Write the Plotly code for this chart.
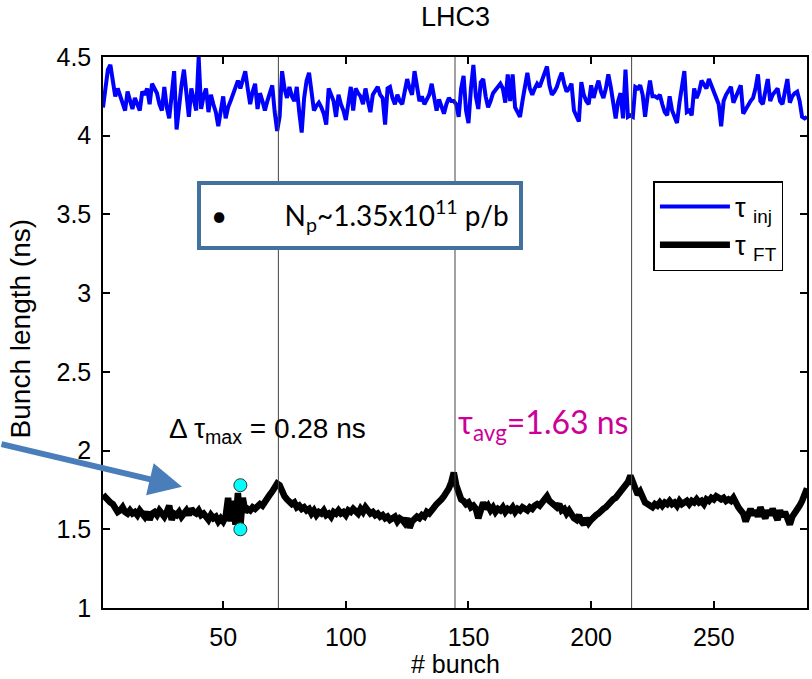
import plotly.graph_objects as go

# Bunch numbers along the LHC3 train
bunch = list(range(1, 289))

# Bunch length at injection (ns)
tau_inj = [
    4.18, 4.30, 4.42, 4.45, 4.35, 4.25, 4.30, 4.25, 4.22, 4.16, 4.28, 4.22,
    4.17, 4.24, 4.20, 4.16, 4.28, 4.26, 4.30, 4.20, 4.33, 4.30, 4.27, 4.20,
    4.16, 4.31, 4.18, 4.11, 4.25, 4.41, 4.04, 4.20, 4.32, 4.42, 4.25, 4.12,
    4.30, 4.22, 4.16, 4.50, 4.17, 4.25, 4.30, 4.15, 4.26, 4.20, 4.15, 4.06,
    4.15, 4.25, 4.11, 4.18, 4.22, 4.26, 4.30, 4.35, 4.30, 4.36, 4.41, 4.30,
    4.20, 4.28, 4.33, 4.17, 4.27, 4.22, 4.16, 4.22, 4.27, 4.32, 4.15, 4.03,
    4.12, 4.41, 4.30, 4.24, 4.31, 4.25, 4.22, 4.31, 4.15, 4.02, 4.24, 4.35,
    4.40, 4.26, 4.16, 4.19, 4.21, 4.18, 4.14, 4.07, 4.30, 4.26, 4.22, 4.12,
    4.26, 4.20, 4.16, 4.10, 4.22, 4.31, 4.16, 4.30, 4.27, 4.25, 4.20, 4.30,
    4.22, 4.15, 4.26, 4.29, 4.31, 4.26, 4.24, 4.07, 4.30, 4.31, 4.24, 4.20,
    4.26, 4.22, 4.20, 4.28, 4.36, 4.30, 4.26, 4.41, 4.30, 4.22, 4.25, 4.20,
    4.23, 4.26, 4.33, 4.25, 4.16, 4.23, 4.19, 4.14, 4.20, 4.24, 4.22, 4.22,
    4.20, 4.12, 4.30, 4.38, 4.16, 4.08, 4.30, 4.45, 4.25, 4.17, 4.34, 4.36,
    4.25, 4.18, 4.22, 4.27, 4.29, 4.31, 4.33, 4.30, 4.21, 4.39, 4.22, 4.39,
    4.18, 4.15, 4.12, 4.22, 4.30, 4.40, 4.30, 4.26, 4.30, 4.33, 4.31, 4.35,
    4.40, 4.44, 4.32, 4.26, 4.28, 4.31, 4.36, 4.40, 4.33, 4.28, 4.30, 4.33,
    4.16, 4.12, 4.09, 4.34, 4.26, 4.22, 4.20, 4.32, 4.24, 4.30, 4.35, 4.28,
    4.24, 4.30, 4.39, 4.31, 4.20, 4.11, 4.22, 4.27, 4.11, 4.42, 4.12, 4.13,
    4.12, 4.31, 4.30, 4.32, 4.26, 4.12, 4.25, 4.35, 4.25, 4.25, 4.24, 4.26,
    4.20, 4.15, 4.13, 4.25, 4.16, 4.12, 4.08, 4.21, 4.30, 4.41, 4.15, 4.16,
    4.13, 4.30, 4.24, 4.28, 4.35, 4.33, 4.30, 4.36, 4.32, 4.28, 4.24, 4.20,
    4.06, 4.22, 4.26, 4.28, 4.31, 4.21, 4.25, 4.29, 4.32, 4.14, 4.17, 4.20,
    4.22, 4.24, 4.30, 4.39, 4.22, 4.20, 4.28, 4.36, 4.22, 4.26, 4.28, 4.30,
    4.22, 4.20, 4.28, 4.36, 4.21, 4.25, 4.27, 4.28, 4.22, 4.12, 4.11, 4.12,
]

# Bunch length at flat top (ns)
tau_ft = [
    1.72, 1.70, 1.68, 1.67, 1.66, 1.63, 1.61, 1.62, 1.64, 1.61, 1.60, 1.62,
    1.60, 1.61, 1.59, 1.62, 1.60, 1.58, 1.61, 1.56, 1.60, 1.61, 1.59, 1.62,
    1.60, 1.58, 1.61, 1.65, 1.56, 1.60, 1.59, 1.61, 1.58, 1.60, 1.62, 1.59,
    1.63, 1.61, 1.60, 1.62, 1.59, 1.60, 1.58, 1.56, 1.59, 1.57, 1.58, 1.55,
    1.57, 1.55, 1.58, 1.70, 1.55, 1.68, 1.53, 1.73, 1.52, 1.70, 1.61, 1.63,
    1.62, 1.64, 1.63, 1.65, 1.66, 1.65, 1.68, 1.70, 1.72, 1.74, 1.76, 1.79,
    1.78, 1.74, 1.71, 1.69, 1.68, 1.66, 1.67, 1.64, 1.65, 1.63, 1.64, 1.62,
    1.63, 1.60, 1.62, 1.59, 1.61, 1.60, 1.62, 1.59, 1.60, 1.58, 1.61, 1.60,
    1.62, 1.60, 1.61, 1.59, 1.62, 1.61, 1.63, 1.62, 1.60, 1.63, 1.61, 1.64,
    1.62, 1.60, 1.61, 1.59, 1.60, 1.58, 1.59, 1.57, 1.58, 1.56, 1.57, 1.58,
    1.55, 1.57, 1.56, 1.54, 1.57, 1.51, 1.55, 1.56, 1.58, 1.57, 1.59, 1.58,
    1.61, 1.60, 1.63, 1.64, 1.66, 1.67, 1.69, 1.71, 1.73, 1.76, 1.80, 1.86,
    1.78, 1.72, 1.69, 1.68, 1.66, 1.67, 1.64, 1.65, 1.63, 1.57, 1.64, 1.67,
    1.63, 1.65, 1.62, 1.64, 1.61, 1.63, 1.62, 1.64, 1.61, 1.63, 1.62, 1.64,
    1.61, 1.63, 1.62, 1.64, 1.63, 1.62, 1.64, 1.63, 1.65, 1.66, 1.65, 1.67,
    1.69, 1.71, 1.68, 1.67, 1.66, 1.64, 1.66, 1.62, 1.63, 1.60, 1.62, 1.59,
    1.57, 1.56, 1.59, 1.55, 1.53, 1.57, 1.54, 1.56, 1.58, 1.59, 1.60, 1.62,
    1.63, 1.64, 1.66, 1.67, 1.69, 1.70, 1.72, 1.73, 1.75, 1.77, 1.80, 1.84,
    1.79, 1.75, 1.72, 1.74, 1.70, 1.67, 1.66, 1.65, 1.64, 1.66, 1.65, 1.67,
    1.65, 1.67, 1.66, 1.68, 1.66, 1.67, 1.65, 1.68, 1.66, 1.67, 1.68, 1.66,
    1.68, 1.67, 1.69, 1.67, 1.68, 1.66, 1.69, 1.68, 1.70, 1.69, 1.71, 1.70,
    1.69, 1.70, 1.68, 1.69, 1.68, 1.70, 1.66, 1.64, 1.62, 1.60, 1.55, 1.61,
    1.63, 1.59, 1.62, 1.58, 1.64, 1.60, 1.57, 1.62, 1.59, 1.63, 1.60, 1.56,
    1.62, 1.58, 1.61, 1.57, 1.53, 1.58, 1.60, 1.63, 1.65, 1.68, 1.72, 1.76,
]

# Batch boundaries
batch_edges = [72.5, 144.5, 216.5]

# Extremes of the flat-top spread inside the first batch
spread_x = [57, 57]
spread_y = [1.50, 1.78]

x_ticks = [50, 100, 150, 200, 250]
y_ticks = [1, 1.5, 2, 2.5, 3, 3.5, 4, 4.5]

AX_FONT = "Liberation Sans, Arial, sans-serif"
OFFICE_FONT = "Lato, Open Sans, sans-serif"

fig = go.Figure()

fig.add_trace(go.Scatter(
    x=bunch, y=tau_inj, mode="lines", name="τ <sub>inj</sub>",
    line=dict(color="#0000FF", width=4),
))
fig.add_trace(go.Scatter(
    x=bunch, y=tau_ft, mode="lines", name="τ <sub>FT</sub>",
    line=dict(color="#000000", width=6.5),
))
fig.add_trace(go.Scatter(
    x=spread_x, y=spread_y, mode="markers", showlegend=False,
    marker=dict(color="#00FFFF", size=13, line=dict(color="#333333", width=1)),
))

for edge in batch_edges:
    fig.add_shape(type="line", xref="x", yref="paper", x0=edge, x1=edge, y0=0, y1=1,
                  line=dict(color="#444444", width=1))

axis_common = dict(
    showgrid=False, zeroline=False, showline=True, linecolor="black", linewidth=1.5,
    mirror="ticks", ticks="inside", ticklen=7, tickwidth=1.5, tickcolor="black",
    tickfont=dict(family=AX_FONT, size=25, color="black"),
)

fig.update_xaxes(range=[1, 288], tickvals=x_ticks, ticklabelstandoff=6, **axis_common)
fig.update_yaxes(range=[1, 4.5], tickvals=y_ticks, ticklabelstandoff=5, **axis_common)

annotations = [
    dict(text="LHC3", xref="paper", yref="paper", x=0.5, y=1.0726,
         xanchor="center", yanchor="middle", showarrow=False,
         font=dict(family=AX_FONT, size=27, color="black")),
    dict(text="# bunch", xref="paper", yref="paper", x=0.5, y=-0.101,
         xanchor="center", yanchor="middle", showarrow=False,
         font=dict(family=AX_FONT, size=25, color="black")),
    dict(text="Bunch length (ns)", xref="paper", yref="paper", x=-0.1176, y=0.506,
         xanchor="center", yanchor="middle", textangle=-90, showarrow=False,
         font=dict(family=AX_FONT, size=28, color="black")),
    dict(text="Δ τ<sub>max</sub> = 0.28 ns", xref="x", yref="y", x=27.0, y=2.13,
         xanchor="left", yanchor="middle", showarrow=False,
         font=dict(family=AX_FONT, size=28, color="black")),
    dict(text="τ<sub>avg</sub>=1.63 ns", xref="x", yref="y", x=145, y=2.17,
         xanchor="left", yanchor="middle", showarrow=False,
         font=dict(family=OFFICE_FONT, size=32, color="#CC0099")),
    dict(text="•        N<sub>p</sub>~1.35x10<sup>11</sup> p/b", xref="paper", yref="paper",
         x=(197 - 103) / 706, y=(608 - 181) / 551, xanchor="left", yanchor="top",
         showarrow=False, bgcolor="white", bordercolor="#41719C", borderwidth=4,
         borderpad=10, font=dict(family=OFFICE_FONT, size=28, color="black")),
    dict(text="", xref="x", yref="y", x=33.2, y=1.77, ax=-182, ay=-43,
         showarrow=True, arrowhead=2, arrowsize=1.1, arrowwidth=6, arrowcolor="#4A7EBB"),
]

fig.update_layout(
    width=812, height=679,
    margin=dict(l=103, r=3, t=57, b=71),
    paper_bgcolor="white", plot_bgcolor="white",
    annotations=annotations,
    legend=dict(x=(655 - 103) / 706, y=(608 - 181) / 551, xanchor="left", yanchor="top",
                bordercolor="black", borderwidth=1.5, bgcolor="white",
                font=dict(family=AX_FONT, size=27, color="black"),
                itemwidth=70, tracegroupgap=6),
)

fig.write_html("out.html")
